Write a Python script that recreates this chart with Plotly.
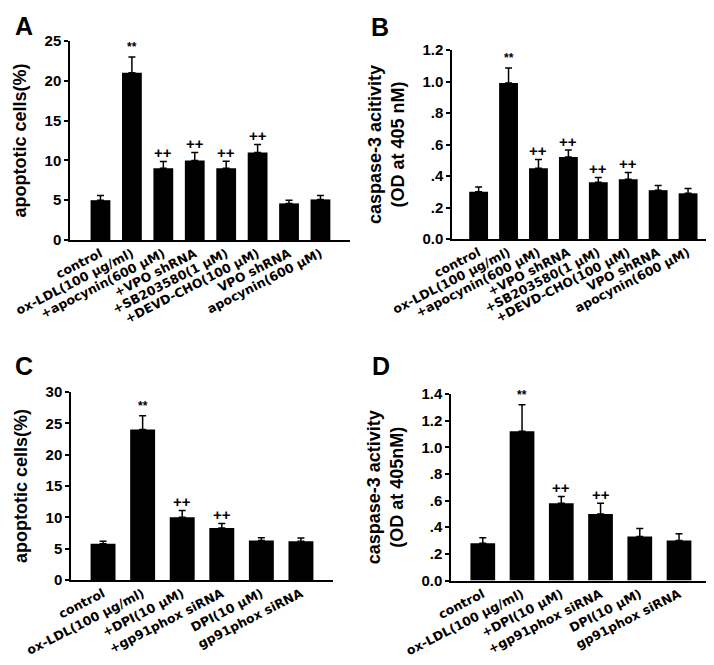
import plotly.graph_objects as go

# ---------------- data ----------------
cats_ab = ["control", "ox-LDL(100 μg/ml)", "+apocynin(600 μM)", "+VPO shRNA",
           "+SB203580(1 μM)", "+DEVD-CHO(100 μM)", "VPO shRNA", "apocynin(600 μM)"]
cats_cd = ["control", "ox-LDL(100 μg/ml)", "+DPI(10 μM)", "+gp91phox siRNA",
           "DPI(10 μM)", "gp91phox siRNA"]

a_vals = [5.0, 21.0, 9.0, 10.0, 9.0, 11.0, 4.6, 5.1]
a_errs = [0.6, 2.0, 0.85, 1.0, 0.9, 1.0, 0.4, 0.5]
a_sig = ["", "**", "++", "++", "++", "++", "", ""]

b_vals = [0.30, 0.99, 0.45, 0.52, 0.36, 0.38, 0.31, 0.29]
b_errs = [0.03, 0.095, 0.055, 0.045, 0.03, 0.042, 0.03, 0.03]
b_sig = ["", "**", "++", "++", "++", "++", "", ""]

c_vals = [5.8, 24.0, 10.0, 8.3, 6.3, 6.2]
c_errs = [0.4, 2.2, 1.1, 0.7, 0.45, 0.5]
c_sig = ["", "**", "++", "++", "", ""]

d_vals = [0.28, 1.12, 0.58, 0.50, 0.33, 0.30]
d_errs = [0.04, 0.20, 0.05, 0.08, 0.06, 0.05]
d_sig = ["", "**", "++", "++", "", ""]

a_ticks = [0, 5, 10, 15, 20, 25]
a_ticktext = ["0", "5", "10", "15", "20", "25"]
b_ticks = [0, 0.2, 0.4, 0.6, 0.8, 1.0, 1.2]
b_ticktext = ["0.0", ".2", ".4", ".6", ".8", "1.0", "1.2"]
c_ticks = [0, 5, 10, 15, 20, 25, 30]
c_ticktext = ["0", "5", "10", "15", "20", "25", "30"]
d_ticks = [0, 0.2, 0.4, 0.6, 0.8, 1.0, 1.2, 1.4]
d_ticktext = ["0.0", ".2", ".4", ".6", ".8", "1.0", "1.2", "1.4"]

panel_letters = ["A", "B", "C", "D"]
y_titles = ["apoptotic cells(%)",
            "caspase-3 acitivity<br>(OD at 405 nM)",
            "apoptotic cells(%)",
            "caspase-3 activity<br>(OD at 405nM)"]

# ---------------- layout helpers ----------------
W, H = 714, 665
FONT = "Liberation Sans, Arial, Helvetica, sans-serif"
XFONT = "DejaVu Sans, Liberation Sans, Arial, sans-serif"


def px_dom_x(x0, x1):
    return [x0 / W, x1 / W]


def px_dom_y(top, bottom):
    return [1 - bottom / H, 1 - top / H]


panels = [
    dict(cats=cats_ab, vals=a_vals, errs=a_errs, sig=a_sig, ticks=a_ticks, tt=a_ticktext,
         yr=[0, 25], xd=px_dom_x(62, 342), yd=px_dom_y(33, 232), xr=[-0.97, 7.94],
         letter_xy=(16, 18)),
    dict(cats=cats_ab, vals=b_vals, errs=b_errs, sig=b_sig, ticks=b_ticks, tt=b_ticktext,
         yr=[0, 1.2], xd=px_dom_x(444, 707), yd=px_dom_y(42, 231), xr=[-0.89, 7.9],
         letter_xy=(372, 19)),
    dict(cats=cats_cd, vals=c_vals, errs=c_errs, sig=c_sig, ticks=c_ticks, tt=c_ticktext,
         yr=[0, 30], xd=px_dom_x(63, 325), yd=px_dom_y(384, 572), xr=[-0.81, 5.81],
         letter_xy=(16, 358)),
    dict(cats=cats_cd, vals=d_vals, errs=d_errs, sig=d_sig, ticks=d_ticks, tt=d_ticktext,
         yr=[0, 1.4], xd=px_dom_x(443, 704), yd=px_dom_y(386, 572.5), xr=[-0.81, 5.84],
         letter_xy=(373, 358)),
]

fig = go.Figure()
annotations = []
layout_axes = {}

for i, p in enumerate(panels):
    n = i + 1
    xa = "x" if n == 1 else f"x{n}"
    ya = "y" if n == 1 else f"y{n}"
    xs = list(range(len(p["cats"])))
    fig.add_trace(go.Bar(
        x=xs, y=p["vals"], xaxis=xa, yaxis=ya,
        marker=dict(color="black", line=dict(width=0)),
        width=0.63,
        error_y=dict(type="data", array=p["errs"], arrayminus=[0] * len(xs),
                     symmetric=False, color="black", thickness=1.5, width=3.5),
        showlegend=False, hoverinfo="skip",
    ))
    xkey = "xaxis" if n == 1 else f"xaxis{n}"
    ykey = "yaxis" if n == 1 else f"yaxis{n}"
    layout_axes[xkey] = dict(
        domain=p["xd"], anchor=ya, range=p["xr"],
        tickmode="array", tickvals=xs, ticktext=p["cats"], tickangle=-27,
        showline=True, linecolor="black", linewidth=1.5, ticks="",
        showgrid=False, zeroline=False, automargin=False,
        tickfont=dict(family=XFONT, size=12.5, color="black", weight="bold"),
    )
    layout_axes[ykey] = dict(
        domain=p["yd"], anchor=xa, range=p["yr"],
        tickmode="array", tickvals=p["ticks"], ticktext=p["tt"],
        showline=True, linecolor="black", linewidth=1.5,
        ticks="outside", ticklen=4, tickwidth=1.5, tickcolor="black",
        showgrid=False, zeroline=False, automargin=False,
        tickfont=dict(family=FONT, size=15, color="black", weight="bold"),
        title=dict(text=y_titles[i], standoff=13,
                   font=dict(family=FONT, size=18, color="black", weight="bold")),
    )
    for j, s in enumerate(p["sig"]):
        if s:
            annotations.append(dict(
                x=xs[j], y=p["vals"][j] + p["errs"][j], xref=xa, yref=ya,
                text=s, showarrow=False, yanchor="middle",
                yshift=9 if s == "++" else 10,
                font=dict(family=FONT, size=15 if s == "++" else 12,
                          color="black", weight="bold"),
            ))
    lx, ly = p["letter_xy"]
    annotations.append(dict(
        x=lx / W, y=1 - ly / H, xref="paper", yref="paper",
        text=panel_letters[i], showarrow=False, xanchor="center", yanchor="middle",
        font=dict(family=FONT, size=25, color="black", weight="bold"),
    ))

fig.update_layout(
    width=W, height=H,
    margin=dict(l=0, r=0, t=0, b=0),
    paper_bgcolor="white", plot_bgcolor="white",
    bargap=0.37,
    annotations=annotations,
    **layout_axes,
)

fig.write_html("out.html")
